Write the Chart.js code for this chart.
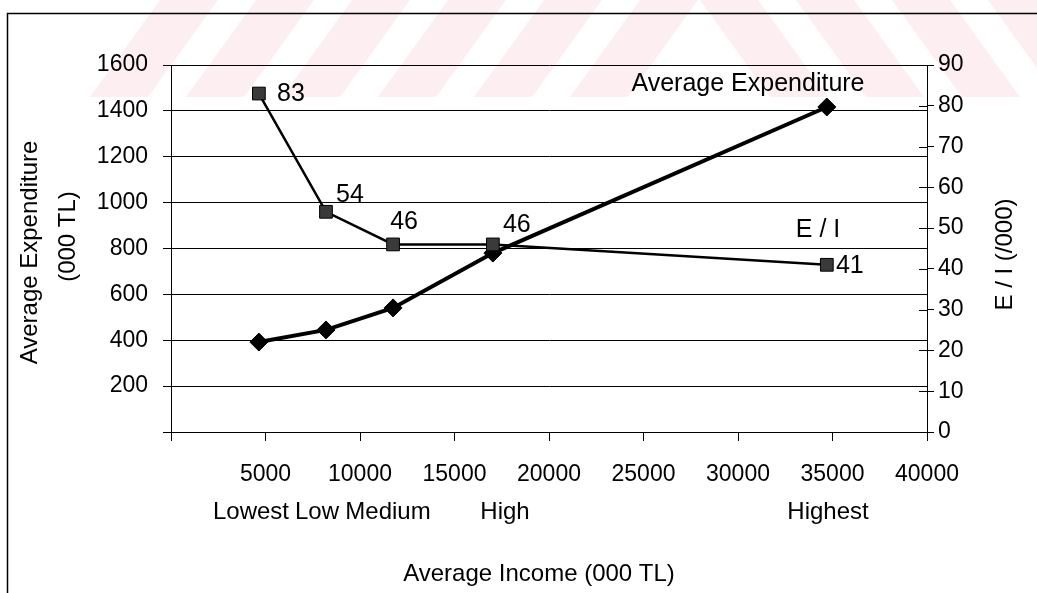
<!DOCTYPE html>
<html>
<head>
<meta charset="utf-8">
<script src="https://cdn.jsdelivr.net/npm/chart.js@4.4.1/dist/chart.umd.min.js"></script>
<style>
  html, body { margin: 0; padding: 0; background: #fff; }
  #wrap { width: 1037px; height: 593px; position: relative; }
</style>
</head>
<body>
<div id="wrap"><canvas id="c" width="1037" height="593"></canvas></div>
<script>
// Income groups (quintiles) and their averages, thousand TL
const groups = ['Lowest', 'Low', 'Medium', 'High', 'Highest'];
const avgIncome = [4650, 8200, 11750, 17030, 34700];
const avgExpenditure = [392, 445, 541, 780, 1417];
// Expenditure / income ratio, per thousand
const expToIncome = [83, 54, 46, 46, 41];

const incomeTicks = [5000, 10000, 15000, 20000, 25000, 30000, 35000, 40000];
const expenditureTicks = [200, 400, 600, 800, 1000, 1200, 1400, 1600];
const ratioTicks = [0, 10, 20, 30, 40, 50, 60, 70, 80, 90];

const FONT = '"Liberation Sans", Arial, Helvetica, sans-serif';

const expPoints = avgIncome.map((x, i) => ({ x, y: avgExpenditure[i] }));
const ratioPoints = avgIncome.map((x, i) => ({ x, y: expToIncome[i] }));

// faint diagonal watermark band across the top of the page
const watermark = {
  id: 'watermark',
  beforeDraw(chart) {
    const ctx = chart.ctx;
    ctx.save();
    ctx.beginPath();
    ctx.rect(0, 0, chart.width, 97);
    ctx.clip();
    ctx.fillStyle = 'rgba(246, 178, 190, 0.22)';
    const h = 97, slant = 70, w = 58;
    for (let x0 = 90; x0 < 640; x0 += 96) {
      ctx.beginPath();
      ctx.moveTo(x0, h); ctx.lineTo(x0 + w, h);
      ctx.lineTo(x0 + w + slant, 0); ctx.lineTo(x0 + slant, 0);
      ctx.closePath(); ctx.fill();
    }
    for (let x0 = 700; x0 < 1100; x0 += 96) {
      ctx.beginPath();
      ctx.moveTo(x0 + slant, h); ctx.lineTo(x0 + slant + w, h);
      ctx.lineTo(x0 + w, 0); ctx.lineTo(x0, 0);
      ctx.closePath(); ctx.fill();
    }
    ctx.restore();
  }
};

// titles, group names, series names, value labels, page frame
const annotations = {
  id: 'annotations',
  afterDraw(chart) {
    const ctx = chart.ctx;
    const yr = chart.scales.y1;
    const area = chart.chartArea;
    ctx.save();
    ctx.fillStyle = '#000';
    ctx.strokeStyle = '#000';

    // page frame (left and top edges)
    ctx.lineWidth = 1.5;
    ctx.beginPath();
    ctx.moveTo(7.5, 593); ctx.lineTo(7.5, 13.5); ctx.lineTo(1037, 13.5);
    ctx.stroke();

    // inner tick stubs on the right axis
    ctx.lineWidth = 1;
    ratioTicks.forEach(v => {
      const y = Math.round(yr.getPixelForValue(v)) + 0.5;
      ctx.beginPath();
      ctx.moveTo(area.right - 8, y); ctx.lineTo(area.right, y);
      ctx.stroke();
    });

    // left axis title (two lines, reading upward)
    ctx.font = '24px ' + FONT;
    ctx.textAlign = 'center';
    ctx.textBaseline = 'middle';
    const midY = (area.top + area.bottom) / 2;
    ctx.save();
    ctx.translate(30, midY + 4);
    ctx.rotate(-Math.PI / 2);
    ctx.fillText('Average Expenditure', 0, 0);
    ctx.restore();
    ctx.save();
    ctx.translate(68, midY - 12);
    ctx.rotate(-Math.PI / 2);
    ctx.fillText('(000 TL)', 0, 0);
    ctx.restore();

    // right axis title
    ctx.save();
    ctx.translate(1005, midY + 6);
    ctx.rotate(-Math.PI / 2);
    ctx.fillText('E / I (/000)', 0, 0);
    ctx.restore();

    // bottom axis title
    ctx.fillText('Average Income (000 TL)', 539, 574);

    // income group names under the axis
    const groupX = [251, 317, 388, 505, 828];
    groups.forEach((g, i) => ctx.fillText(g, groupX[i], 512));

    // series names
    ctx.font = '25px ' + FONT;
    ctx.fillText('Average Expenditure', 748, 84);
    ctx.fillText('E / I', 818, 230);

    // value labels of the E / I series
    const meta = chart.getDatasetMeta(1);
    const offs = [[32, 1], [24, -17], [11, -22], [24, -19], [23, 1]];
    meta.data.forEach((pt, i) => {
      ctx.fillText(String(expToIncome[i]), pt.x + offs[i][0], pt.y + offs[i][1]);
    });
    ctx.restore();
  }
};

new Chart(document.getElementById('c'), {
  type: 'line',
  data: {
    datasets: [
      {
        label: 'Average Expenditure',
        data: expPoints,
        yAxisID: 'y',
        borderColor: '#000',
        borderWidth: 4,
        pointStyle: 'rectRot',
        pointRadius: 9,
        pointBackgroundColor: '#000',
        pointBorderColor: '#000',
        pointBorderWidth: 1,
        tension: 0,
        order: 2
      },
      {
        label: 'E / I',
        data: ratioPoints,
        yAxisID: 'y1',
        borderColor: '#000',
        borderWidth: 2.5,
        pointStyle: 'rect',
        pointRadius: 9,
        pointBackgroundColor: '#3a3a3a',
        pointBorderColor: '#000',
        pointBorderWidth: 1,
        tension: 0,
        order: 1
      }
    ]
  },
  options: {
    responsive: false,
    animation: false,
    events: [],
    layout: { padding: { top: 65, left: 0, right: 0, bottom: 0 } },
    plugins: {
      legend: { display: false },
      tooltip: { enabled: false },
      title: { display: false }
    },
    scales: {
      x: {
        type: 'linear',
        position: 'bottom',
        min: 0,
        max: 40000,
        afterBuildTicks(s) { s.ticks = [0, ...incomeTicks].map(v => ({ value: v })); },
        ticks: {
          callback: v => (v === 0 ? '' : String(v)),
          color: '#000',
          font: { family: FONT, size: 23 },
          padding: 20,
          maxRotation: 0,
          autoSkip: false
        },
        grid: { drawOnChartArea: false, drawTicks: true, tickLength: 9, color: '#000', tickColor: '#000', lineWidth: 1 },
        border: { display: true, color: '#000', width: 1 },
        afterFit(s) { s.height = 161; }
      },
      y: {
        type: 'linear',
        position: 'left',
        min: 0,
        max: 1600,
        afterBuildTicks(s) { s.ticks = [0, ...expenditureTicks].map(v => ({ value: v })); },
        ticks: {
          callback: v => (v === 0 ? '' : String(v)),
          color: '#000',
          font: { family: FONT, size: 23 },
          padding: 15
        },
        grid: { drawOnChartArea: true, drawTicks: true, tickLength: 8, color: '#000', tickColor: '#000', lineWidth: 1 },
        border: { display: true, color: '#000', width: 1 },
        afterFit(s) { s.width = 171; }
      },
      y1: {
        type: 'linear',
        position: 'right',
        min: 0,
        max: 90,
        afterBuildTicks(s) { s.ticks = ratioTicks.map(v => ({ value: v })); },
        ticks: {
          callback: v => String(v),
          color: '#000',
          font: { family: FONT, size: 23 },
          padding: 4
        },
        grid: { drawOnChartArea: false, drawTicks: true, tickLength: 7, color: '#000', tickColor: '#000', lineWidth: 1 },
        border: { display: true, color: '#000', width: 1 },
        afterFit(s) { s.width = 110; }
      }
    }
  },
  plugins: [watermark, annotations]
});
</script>
</body>
</html>
